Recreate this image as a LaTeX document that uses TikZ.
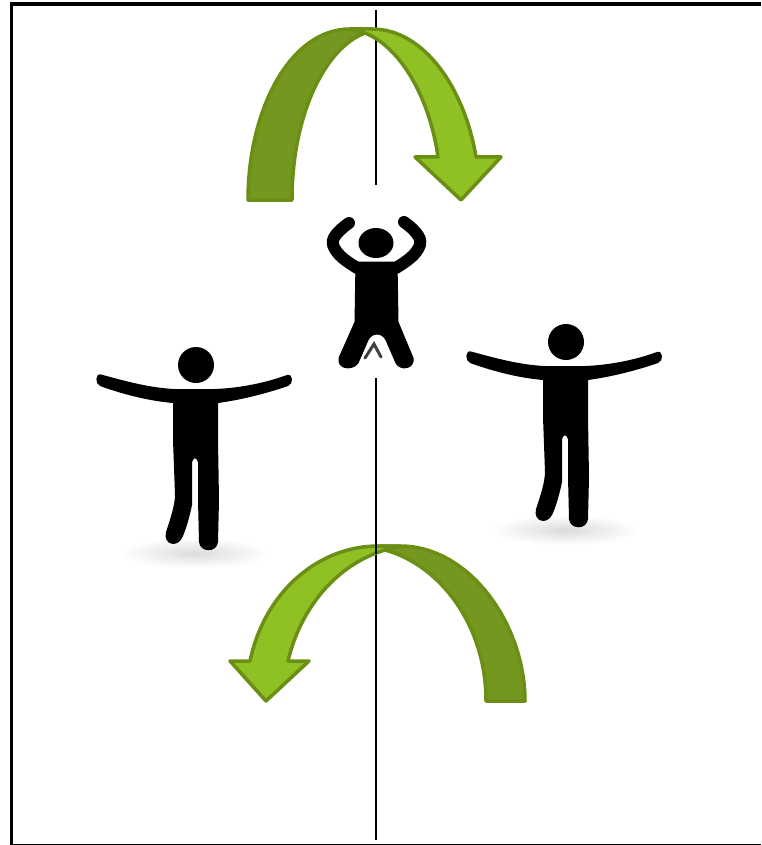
\documentclass[tikz,border=0pt]{standalone}
\definecolor{armdark}{HTML}{74981F}
\definecolor{armlight}{HTML}{8FC024}
\definecolor{armedge}{HTML}{6B8E14}
\tikzset{
  armband/.style={draw=armedge,line width=3.5pt,line join=round},
  limb/.style={draw=black,line cap=round,line join=round},
  personfill/.style={fill=black,draw=black,line width=1pt,line join=round},
  axisline/.style={draw=black,line width=2.5pt},
  frameline/.style={draw=black,line width=3.5pt}
}
\newcommand{\standingperson}[2]{%
  \begin{scope}[shift={(#1,#2)}]
    \shade[inner color=black!14,outer color=white] (195,553) ellipse [x radius=74,y radius=15];
    \fill (196,365) circle [x radius=18,y radius=18];
    \fill (101,374.5) .. controls (125,381) and (150,388) .. (175,389) -- (215,389)
      .. controls (240,388) and (265,383) .. (287,375)
      .. controls (293,373) and (294,384) .. (288,386)
      .. controls (265,394) and (240,400) .. (218,403)
      -- (218,440) -- (219,500) -- (218,542) .. controls (217,553) and (200,553) .. (199,542)
      -- (198,500) -- (198,462) .. controls (196,457) and (194,457) .. (192,462)
      -- (192,505) .. controls (190,515) and (186,530) .. (182,538)
      .. controls (177,548) and (163,545) .. (166,532)
      .. controls (170,520) and (175,505) .. (175,495)
      -- (173,440) -- (173,403) .. controls (150,401) and (125,395) .. (100,386)
      .. controls (95,384) and (95,373) .. (101,374.5) -- cycle;
  \end{scope}}
\begin{document}
\begin{tikzpicture}[x=1pt,y=-1pt]
  \useasboundingbox (0,0) rectangle (761,845);
  \fill[white] (0,0) rectangle (761,845);
  % frame
  \draw[frameline] (761,4) -- (11.5,4) -- (11.5,845);
  \draw[draw=black,line width=2pt] (11.5,844.5) -- (761,844.5);
  % axis
  \draw[axisline] (376,10) -- (376,185);
  \draw[axisline] (376,378) -- (376,840);
  % top arrow
  \draw[armband,fill=armdark] (248,200) .. controls (248,110) and (290,29) .. (350,29)
    -- (372,29) -- (365,33) .. controls (325,48) and (292,115) .. (292,200) -- cycle;
  \draw[armband,fill=armlight] (350,29) -- (372,29)
    .. controls (425,29) and (465,90) .. (476,157) -- (501,157) -- (461,200) -- (415,157) -- (438,157)
    .. controls (430,100) and (402,48) .. (365,33) -- cycle;
  % bottom arrow
  \draw[armband,fill=armdark] (525,701) .. controls (525,625) and (470,546) .. (400,546)
    -- (378,546) -- (385,550) .. controls (440,565) and (486,625) .. (486,701) -- cycle;
  \draw[armband,fill=armlight] (400,546) -- (378,546)
    .. controls (320,546) and (265,590) .. (250,661) -- (230,661) -- (266,701) -- (309,661) -- (288,661)
    .. controls (300,610) and (335,565) .. (385,550) -- cycle;
  \draw[axisline] (376,544) -- (376,554);
  % figures
  \standingperson{0}{0}
  \standingperson{370}{-23}
  % centre figure
  \fill (376,243) circle [x radius=17.5,y radius=15];
  \draw[limb,line width=12pt] (404,222) .. controls (418,232) and (422,240) .. (420,245) .. controls (416,256) and (405,262) .. (396,268);
  \draw[limb,line width=12pt] (349,223) .. controls (336,232) and (331,240) .. (333,245) .. controls (337,256) and (348,262) .. (357,268);
  \fill[personfill] (356,262) -- (397,262) -- (398,322) -- (413,358)
    .. controls (415,369) and (400,371) .. (396,363)
    -- (386,340) .. controls (382,332) and (372,332) .. (368,340)
    -- (358,363) .. controls (352,371) and (337,369) .. (339,358)
    -- (355,322) -- cycle;
  \draw[black!75,line width=3pt,line cap=round] (365,358) -- (374,344) -- (381,357);
\end{tikzpicture}
\end{document}
